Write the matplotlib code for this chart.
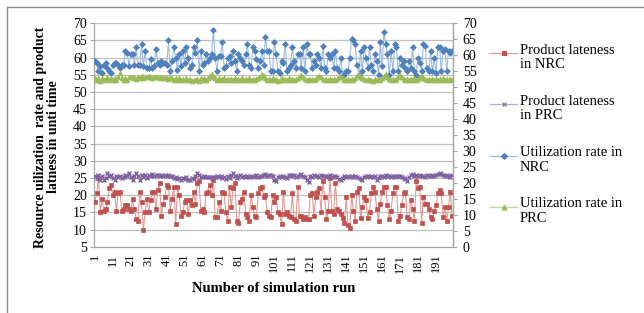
import matplotlib
matplotlib.use("Agg")
import matplotlib.pyplot as plt
from matplotlib.lines import Line2D
import numpy as np

# ---------------- data ----------------
util_nrc = [
    59, 58.5, 56, 57.5, 55.5, 58, 58.5, 57, 56, 55.5,
    58, 58.5, 58.5, 58, 57, 58, 58, 62, 61.5, 57.5,
    61, 61, 58, 63, 58, 58, 64, 57.5, 62, 57,
    57, 59.5, 57, 57.5, 62.5, 58.5, 58, 59, 58.5, 58.5,
    58, 65, 56, 59, 63, 60, 56.5, 61, 57.5, 62,
    58.5, 63, 60, 57, 58, 63, 61.5, 65, 56, 62,
    58, 58.5, 61, 59, 60, 61, 68, 60, 56, 60.5,
    60.5, 64.5, 57, 57.5, 60, 60.5, 58.5, 62, 59, 56,
    61, 60, 59, 58, 61, 64, 58, 57, 63, 62,
    59.5, 57, 59, 62, 58, 66, 62, 62, 56, 56,
    64.5, 61, 56, 55.5, 59, 58.5, 64, 56, 57, 58,
    63, 59, 57, 61, 61, 57, 63, 56, 64, 61,
    61, 57, 59, 58, 61, 60, 57, 63.5, 57, 56,
    61, 60, 61, 57, 62, 57, 56, 60, 55, 55,
    56, 56, 60, 65.5, 65, 64, 58, 55, 62, 56,
    63, 60, 57, 63, 58, 56, 61, 59, 55, 64.5,
    57.5, 67.5, 64, 61, 55, 62, 56, 64, 63, 56,
    60, 58, 59, 57, 56, 59, 57, 63, 56, 55,
    60, 58.5, 56, 64, 63.5, 57, 56, 62, 56, 60,
    55.5, 63, 63, 56, 62, 62.5, 56, 62, 61.5, 62,
]

util_prc = [
    54, 53.5, 54, 53.3, 54.2, 53.5, 53.8, 54.3, 53.4, 54,
    53.6, 54.2, 53.5, 54.5, 55.5, 54.2, 53.6, 54, 53.5, 54.4,
    54.5, 54, 54.3, 53.8, 54.5, 54.2, 54.6, 54, 54.5, 54.3,
    54.6, 54.4, 54.2, 54.5, 54.3, 54.4, 54.1, 54.3, 54.2, 54.4,
    54.2, 53.8, 54.3, 54, 53.5, 54, 53.6, 54.2, 53.5, 53.8,
    53.4, 54, 53.5, 53.8, 53.3, 53.6, 53.4, 53.8, 53.3, 54,
    53.5, 54, 53.6, 54.2, 54.8, 55.3, 54.5, 54, 53.6, 54,
    53.5, 53.8, 54, 53.5, 53.8, 53.4, 53.9, 53.5, 54, 53.6,
    53.8, 53.4, 54, 53.5, 53.7, 53.4, 54, 53.6, 53.8, 53.5,
    53.9, 54.2, 54.5, 55.3, 54.6, 54, 53.6, 53.8, 53.4, 54,
    53.5, 53.8, 53.3, 53.6, 54, 53.4, 53.8, 53.5, 54, 53.6,
    53.9, 53.5, 53.8, 54, 54.4, 54.9, 54.3, 53.8, 53.5, 53.9,
    53.4, 53.8, 53.5, 53.9, 54.4, 54.8, 54.3, 53.8, 53.5, 53.8,
    53.4, 53.7, 53.4, 53.8, 53.5, 53.9, 54.4, 54.8, 54.2, 53.6,
    53.5, 53.8, 53.4, 53.8, 53.6, 54.2, 54.8, 55.2, 54.5, 54,
    53.8, 53.5, 53.8, 53.4, 53.6, 53.3, 53.7, 53.4, 53.8, 53.5,
    54, 54.6, 55.2, 54.5, 53.8, 53.5, 53.8, 53.4, 53.9, 54.4,
    54.9, 54.3, 53.8, 53.5, 53.9, 53.4, 53.8, 53.5, 54, 53.6,
    53.8, 54.3, 54.8, 54.2, 53.8, 53.5, 53.9, 53.4, 53.8, 53.5,
    53.9, 53.4, 53.8, 53.5, 54, 53.6, 53.9, 53.5, 53.8, 53.5,
]

late_prc = [
    25.5, 25, 26, 24.5, 25.5, 24.5, 25, 26.3, 25.5, 25.8,
    25, 24.3, 25.5, 25.3, 25.5, 25, 25.2, 25.8, 25.5, 26.5,
    25.3, 24.5, 25.5, 26.3, 25.5, 24.5, 26, 25.2, 25.8, 25,
    26, 25.5, 26.2, 25.5, 25.8, 26, 25.5, 25.8, 25.7, 25.8,
    25.6, 25.8, 25.5, 25.7, 25, 25.3, 24.8, 25, 24.5, 25,
    24.8, 25.3, 24.5, 24.3, 25, 24.6, 25.5, 26.5, 26, 25.4,
    25.3, 25.6, 25.2, 25.4, 25.2, 25, 25.4, 25.2, 25.5, 25.3,
    25.6, 25, 25.3, 24.6, 25.5, 25, 25.8, 26.3, 25.5, 25,
    25.5, 25.8, 25.3, 25.6, 25.2, 25.5, 25.3, 25.7, 25.2, 25.5,
    25.8, 25.3, 25.6, 25.5, 25.8, 26.2, 25.5, 25.8, 26, 25.5,
    24.5, 24, 25.3, 25.5, 25.2, 25.6, 25.4, 25, 25.8, 26,
    25.5, 25.8, 25.3, 25.5, 25.8, 26.2, 25.5, 25.2, 24.5, 23.8,
    25.5, 25.2, 25.8, 25.5, 25.6, 25.3, 25.8, 25.5, 25.6, 25.2,
    25.5, 25.8, 25.3, 25.6, 25.5, 25.3, 24.8, 24.5, 25, 25.5,
    25.3, 25.6, 25.2, 25.5, 25.4, 25.6, 25.3, 25, 24.8, 24.5,
    25.2, 25.5, 25.6, 25.3, 25.5, 25.2, 25.6, 24.5, 25, 25.5,
    25.6, 25.4, 25.8, 25.5, 25.6, 25.2, 25.6, 25.5, 25.3, 25.6,
    25.5, 25.2, 25, 24.6, 24, 25.2, 25.8, 26.2, 25.5, 25.8,
    25.5, 25.8, 25.5, 25.7, 25.4, 25.8, 25.6, 25.5, 25.8, 25.6,
    25.8, 26.2, 26.4, 26.2, 25.8, 25.5, 26, 25.6, 25.4, 25.8,
]

late_nrc = [
    18, 20.5, 25, 15, 19, 15.5, 16, 18, 22, 23,
    20, 21, 15.5, 20.5, 21, 15.5, 16, 17, 17, 16,
    15.5, 19, 16, 13, 12.5, 21, 18, 10, 15, 19,
    15, 18.5, 21, 21, 16, 21.5, 23.5, 14, 17.5, 19.5,
    23, 22.5, 15.5, 19, 22.5, 11.5, 22.5, 20, 14, 15,
    18, 18.5, 14.5, 18.5, 17, 21, 17.5, 23.5, 24, 15.5,
    16, 15, 20.5, 21, 23, 20, 24.5, 13.5, 13.5, 18,
    15.5, 21, 20.5, 15, 12.5, 22.5, 16.5, 22, 23.5, 12.5,
    12, 18, 19, 21, 14.5, 13.5, 12.5, 20, 16.5, 14,
    13.5, 20.5, 22, 22.5, 19.5, 20, 15, 14, 13.5, 20,
    18, 19.5, 15, 14.5, 11.5, 21, 14.5, 15, 14, 13.5,
    20.5, 13, 12.5, 22.5, 14, 14, 13, 13.5, 13, 13,
    20, 20.5, 14, 19.5, 21, 22, 15, 24, 19.5, 13,
    15.5, 25, 15.5, 14.5, 23.5, 16, 15.5, 14.5, 13.3, 11.8,
    19.5, 11.3, 10.4, 20, 15.5, 12.5, 21, 22, 13.3, 16.5,
    19.5, 18.5, 13.3, 15, 20.5, 22.5, 21, 16, 12.5, 17.5,
    21, 22.5, 22.5, 17, 13, 15.5, 20.5, 22.5, 22.5, 12.5,
    14, 17, 20.5, 21, 13.5, 13, 18.5, 16, 12.5, 24,
    22, 22.5, 12, 19.5, 17.5, 17.5, 16, 13.5, 13, 15.5,
    17, 20.5, 21.5, 20.5, 13.5, 16.5, 12.5, 16.5, 21, 14,
]

series_labels = ["Product lateness\nin NRC", "Product lateness\nin PRC",
                 "Utilization rate in\nNRC", "Utilization rate in\nPRC"]
x_tick_labels = [str(v) for v in range(1, 192, 10)]
y_label = "Resource uilization  rate and product\nlatness in unti time"
x_label = "Number of simulation run"

# ---------------- style ----------------
W, H = 644, 313
fig = plt.figure(figsize=(W / 100, H / 100), dpi=100)
plt.rcParams['font.family'] = ['Liberation Serif', 'DejaVu Serif']

def fx(px):
    return px / W

def fy(py):
    return 1 - py / H

ax = fig.add_axes([fx(94), fy(246.7), fx(453) - fx(94), fy(23.3) - fy(246.7)])
runs = np.arange(1, len(late_nrc) + 1)

styles = [
    dict(data=late_nrc, mc="#C0504D", lc="#E09A98", marker="s", ms=3.0),
    dict(data=late_prc, mc="#8064A2", lc="#B9A7CF", marker="x", ms=3.5),
    dict(data=util_nrc, mc="#4F81BD", lc="#9DBBE0", marker="D", ms=3.0),
    dict(data=util_prc, mc="#9BBB59", lc="#C5DA9A", marker="^", ms=3.5),
]

for st in styles:
    ax.plot(runs, st["data"], color=st["lc"], lw=0.8, zorder=2)
    ax.plot(runs, st["data"], ls="none", marker=st["marker"], ms=st["ms"],
            color=st["mc"], mec=st["mc"], mew=1.0 if st["marker"] == "x" else 0.5,
            zorder=3)

ax.set_xlim(0.5, len(runs) + 0.5)
ax.set_ylim(5, 70)
ax.set_yticks(np.arange(5, 71, 5))
ax.tick_params(axis='y', labelsize=10, length=3, color="#A6A6A6", pad=2)
ax.set_xticks(np.arange(1, 192, 10))
ax.set_xticklabels(x_tick_labels, rotation=90, fontsize=9)
ax.tick_params(axis='x', length=0, pad=5)
ax.grid(axis='y', color="#BFBFBF", lw=0.9)
ax.set_axisbelow(True)
for s in ["top"]:
    ax.spines[s].set_visible(False)
for s in ["left", "bottom", "right"]:
    ax.spines[s].set_color("#A6A6A6")
    ax.spines[s].set_linewidth(0.9)

ax2 = ax.twinx()
ax2.set_ylim(0, 70)
ax2.set_yticks(np.arange(0, 71, 5))
ax2.tick_params(axis='y', labelsize=10, length=3, color="#A6A6A6", pad=4)
for s in ["top", "left", "bottom"]:
    ax2.spines[s].set_visible(False)
ax2.spines["right"].set_color("#A6A6A6")
ax2.spines["right"].set_linewidth(0.9)

fig.text(fx(47), fy(137), y_label, rotation=90, ha="center", va="center",
         fontsize=10, fontweight="bold", linespacing=1.05)
fig.text(fx(274), fy(289), x_label, ha="center", va="center",
         fontsize=10.5, fontweight="bold")

# legend drawn manually in figure coordinates
for i, (st, lab) in enumerate(zip(styles, series_labels)):
    yy = 53 + i * 51.3
    fig.add_artist(Line2D([fx(490), fx(517)], [fy(yy), fy(yy)], color=st["lc"], lw=0.9))
    fig.add_artist(Line2D([fx(503.5)], [fy(yy)], ls="none", marker=st["marker"],
                          ms=st["ms"], color=st["mc"], mec=st["mc"], mew=0.8))
    fig.text(fx(520), fy(yy - 9.5), lab, ha="left", va="top", fontsize=10.5,
             linespacing=1.15)

# outer chart frame (top and left edges visible)
fig.add_artist(Line2D([fx(7), fx(644)], [fy(7), fy(7)], color="#8C8C8C", lw=1))
fig.add_artist(Line2D([fx(7), fx(7)], [fy(7), fy(313)], color="#8C8C8C", lw=1))

fig.savefig("out.png", dpi=100, facecolor="white")
